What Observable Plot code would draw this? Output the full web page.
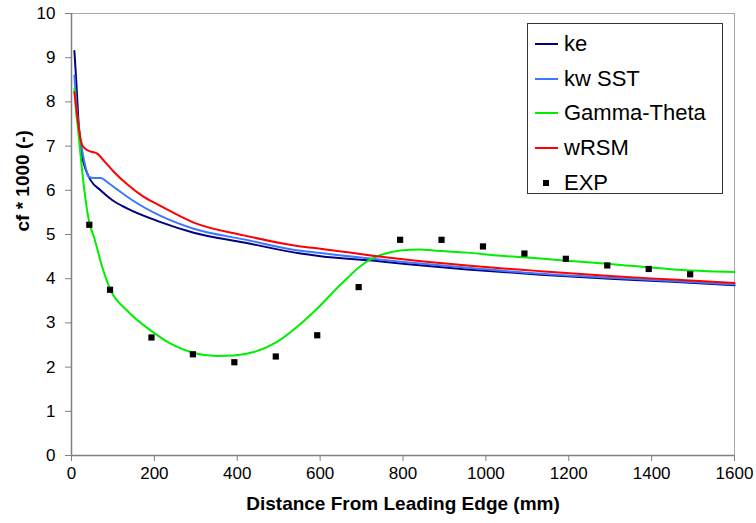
<!DOCTYPE html>
<html>
<head>
<meta charset="utf-8">
<script src="https://cdn.jsdelivr.net/npm/d3@7"></script>
<script src="https://cdn.jsdelivr.net/npm/@observablehq/plot@0.6"></script>
<style>
  html, body { margin: 0; padding: 0; background: #fff; }
  #wrap { position: relative; width: 756px; height: 523px; }
  #legend { position: absolute; left: 527px; top: 23px; width: 194px; height: 169px;
    border: 1px solid #333; background: #fff; font-family: "Liberation Sans", Arial, sans-serif; font-size: 22px; color: #000; }
  .item { position: absolute; left: 0; height: 30px; display: flex; align-items: center; }
  .item svg { margin-left: 7px; margin-right: 6px; }
</style>
</head>
<body>
<div id="wrap"><div id="chart"></div><div id="legend"></div></div>
<script>
// Series names and colours
const seriesNames = ["ke", "kw SST", "Gamma-Theta", "wRSM"];
const seriesColors = ["#000080", "#3c78ff", "#00ee00", "#ff0000"];

// ke: [distance mm, cf*1000]
const keData = [[7,9.15],[10,8.7],[13,8.2],[18,7.4],[26,6.76],[35,6.45],[46,6.23],[70,6.0],[98,5.78],[134,5.59],[215,5.28],[295,5.04],[416,4.82],[553,4.57],[601,4.51],[726,4.41],[800,4.34],[955,4.21],[1132,4.09],[1300,4.0],[1450,3.93],[1600,3.85]];
// kw SST
const kwData = [[7,8.6],[12,7.9],[22,7.13],[32,6.6],[42,6.30],[55,6.28],[70,6.28],[90,6.16],[110,6.02],[146,5.78],[215,5.42],[295,5.13],[416,4.89],[553,4.63],[601,4.58],[726,4.45],[800,4.38],[955,4.25],[1132,4.11],[1300,4.02],[1450,3.95],[1600,3.87]];
// Gamma-Theta
const gammaData = [[7,8.3],[10,7.9],[16,7.36],[25,6.5],[34,5.78],[44,5.23],[54,4.95],[74,4.27],[94,3.75],[134,3.28],[191,2.83],[239,2.53],[295,2.32],[352,2.25],[392,2.26],[440,2.34],[496,2.57],[553,2.98],[601,3.40],[640,3.78],[673,4.08],[697,4.28],[726,4.46],[754,4.56],[794,4.64],[842,4.66],[874,4.64],[955,4.59],[1035,4.52],[1116,4.47],[1180,4.42],[1293,4.34],[1453,4.21],[1600,4.15]];
// wRSM
const wrsmData = [[7,8.22],[15,7.6],[22,7.15],[27,7.0],[40,6.9],[62,6.83],[80,6.65],[102,6.42],[135,6.13],[170,5.88],[210,5.67],[295,5.27],[416,4.98],[553,4.73],[601,4.68],[726,4.52],[800,4.44],[955,4.30],[1132,4.17],[1300,4.06],[1450,3.98],[1600,3.90]];
// EXP measurements
const expX = [43,93,193,293,393,493,593,693,793,893,993,1093,1193,1293,1393,1493];
const expY = [5.22,3.75,2.67,2.29,2.11,2.24,2.72,3.81,4.88,4.88,4.73,4.57,4.45,4.30,4.22,4.10];

const xTicks = [0,200,400,600,800,1000,1200,1400,1600];
const yTicks = [0,1,2,3,4,5,6,7,8,9,10];
const xLabel = "Distance From Leading Edge (mm)";
const yLabel = "cf * 1000 (-)";

const allSeries = [keData, kwData, gammaData, wrsmData];
const lines = allSeries.flatMap((arr, i) => arr.map(([x, y]) => ({x, y, s: seriesNames[i]})));
const exp = expX.map((x, i) => ({x, y: expY[i]}));

const chart = Plot.plot({
  width: 756,
  height: 523,
  marginLeft: 71,
  marginRight: 22,
  marginTop: 13,
  marginBottom: 68,
  style: {fontFamily: "'Liberation Sans', Arial, sans-serif", fontSize: "17px", color: "#000", background: "#fff"},
  x: {domain: [0, 1600]},
  y: {domain: [0, 10]},
  color: {domain: seriesNames, range: seriesColors},
  marks: [
    Plot.frame({stroke: "#a8a8a8"}),
    Plot.axisX({ticks: xTicks, tickFormat: d => String(d), tickSize: 6, tickPadding: 5, stroke: "#808080", fill: "#000", label: null}),
    Plot.axisY({ticks: yTicks, tickFormat: d => String(d), tickSize: 6, tickPadding: 10, stroke: "#808080", fill: "#000", label: null}),
    Plot.ruleX([0], {stroke: "#808080", strokeWidth: 1.5}),
    Plot.ruleY([0], {stroke: "#808080", strokeWidth: 1.5}),
    Plot.line(lines, {x: "x", y: "y", z: "s", stroke: "s", strokeWidth: 2, curve: "monotone-x"}),
    Plot.dot(exp, {x: "x", y: "y", symbol: "square", r: 3.5, fill: "#000", stroke: null}),
    Plot.text([xLabel], {frameAnchor: "bottom", dy: 54, fontWeight: "bold", fontSize: 19, fill: "#000"}),
    Plot.text([yLabel], {frameAnchor: "left", dx: -49, dy: -3, rotate: -90, fontWeight: "bold", fontSize: 19, fill: "#000"})
  ]
});
document.getElementById("chart").appendChild(chart);

// Legend
const legend = document.getElementById("legend");
const legendItems = seriesNames.map((n, i) => ({name: n, color: seriesColors[i], kind: "line"}))
  .concat([{name: "EXP", color: "#000", kind: "square"}]);
legendItems.forEach((it, i) => {
  const d = document.createElement("div");
  d.className = "item";
  d.style.top = (5 + i * 34.7) + "px";
  const sw = it.kind === "line"
    ? `<svg width="23" height="10"><line x1="0" x2="23" y1="5" y2="5" stroke="${it.color}" stroke-width="2"/></svg>`
    : `<svg width="23" height="10"><rect x="8" y="2" width="6" height="6" fill="#000"/></svg>`;
  d.innerHTML = sw + `<span>${it.name}</span>`;
  legend.appendChild(d);
});
</script>
</body>
</html>
